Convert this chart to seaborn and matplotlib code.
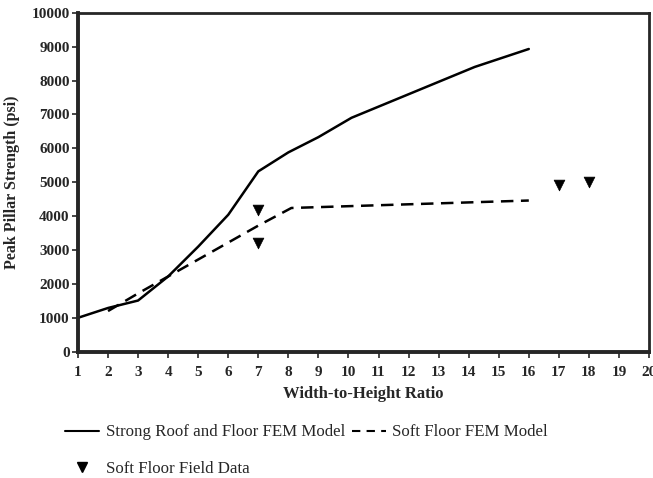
import pandas as pd
import numpy as np
import matplotlib.pyplot as plt
import seaborn as sns
from matplotlib.lines import Line2D

# Dane
strong_x = [1, 2, 3, 4, 5, 6, 7, 8, 9, 10.1, 14.2, 16]
strong_y = [1000, 1290, 1510, 2220, 3100, 4040, 5320, 5880, 6330, 6900, 8400, 8930]

soft_x = [2, 3, 4, 5, 6, 7, 8.1, 16]
soft_y = [1200, 1720, 2220, 2720, 3220, 3720, 4240, 4460]

field_x = [7, 7, 17, 18]
field_y = [4190, 3220, 4930, 5010]

x_ticks = list(range(1, 21))
y_ticks = list(range(0, 10001, 1000))

sns.set_style("ticks")
plt.rcParams['font.family'] = ['Liberation Serif', 'DejaVu Serif']

strong = pd.DataFrame({'ratio': strong_x, 'strength': strong_y})
soft = pd.DataFrame({'ratio': soft_x, 'strength': soft_y})
field = pd.DataFrame({'ratio': field_x, 'strength': field_y})

fig = plt.figure(figsize=(6.53, 4.78), dpi=100)
ax = fig.add_axes([0.1194, 0.2642, 0.8745, 0.7092])

sns.lineplot(data=strong, x='ratio', y='strength', ax=ax, color='black', linewidth=1.8, sort=False)
sns.lineplot(data=soft, x='ratio', y='strength', ax=ax, color='black', linewidth=1.8,
             linestyle=(0, (5, 3)), sort=False)
sns.scatterplot(data=field, x='ratio', y='strength', ax=ax, color='black', marker='v', s=60,
                edgecolor='black', linewidth=0.5, zorder=5)

ax.set_xlim(1, 20)
ax.set_ylim(0, 10000)
ax.set_xticks(x_ticks)
ax.set_yticks(y_ticks)
ax.tick_params(axis='both', labelsize=11, width=1.2, length=4, direction='out')
ax.tick_params(axis='x', pad=6)
ax.tick_params(axis='y', pad=2)
for lab in ax.get_xticklabels() + ax.get_yticklabels():
    lab.set_fontweight('bold')

ax.spines['left'].set_linewidth(2.8)
ax.spines['bottom'].set_linewidth(2.8)
ax.spines['top'].set_linewidth(2)
ax.spines['right'].set_linewidth(2)

ax.set_xlabel('Width-to-Height Ratio', fontsize=12, weight='bold', labelpad=5)
ax.set_ylabel('Peak Pillar Strength (psi)', fontsize=11.5, weight='bold', labelpad=8)

h_strong = Line2D([], [], color='black', linewidth=1.5)
h_soft = Line2D([], [], color='black', linewidth=1.5, linestyle=(0, (4, 3)))
h_field = Line2D([], [], color='black', marker='v', markersize=7, linestyle='none')
fig.legend([h_strong, h_field, h_soft],
           ['Strong Roof and Floor FEM Model', 'Soft Floor Field Data', 'Soft Floor FEM Model'],
           ncol=2, loc='upper left', bbox_to_anchor=(0.0995, 0.112), frameon=False,
           fontsize=12.2, handlelength=2.0, handletextpad=0.4, columnspacing=0.4,
           labelspacing=1.2, borderaxespad=0, borderpad=0)

fig.savefig('out.png', dpi=100)
